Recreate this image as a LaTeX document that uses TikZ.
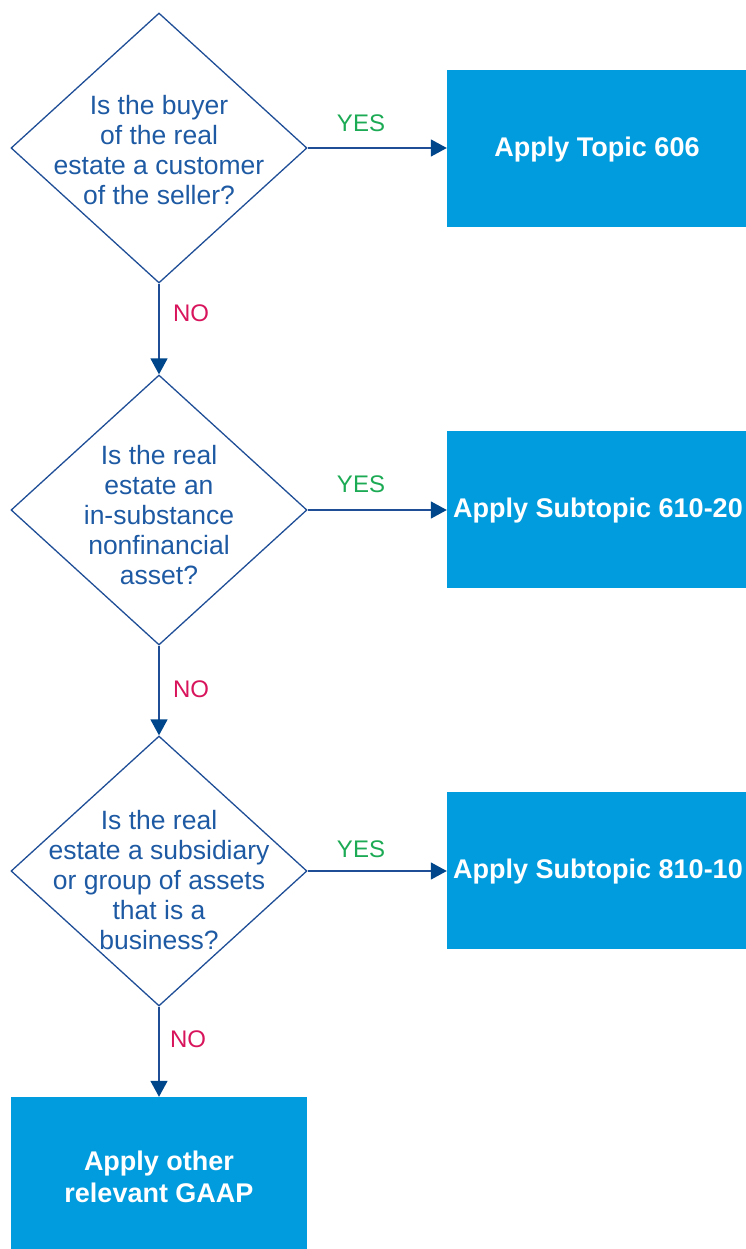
\documentclass[tikz,border=0pt]{standalone}
\usepackage{fontspec}
\setmainfont{Liberation Sans}
\usetikzlibrary{shapes.geometric,arrows.meta}
\definecolor{linkblue}{HTML}{1F4E96}
\definecolor{headblue}{HTML}{00468B}
\definecolor{qblue}{HTML}{1E5AA3}
\definecolor{boxblue}{HTML}{009CDE}
\definecolor{yesgreen}{HTML}{1DAA55}
\definecolor{nored}{HTML}{D8155C}
\begin{document}
\begin{tikzpicture}[x=1pt,y=-1pt,
  question/.style={diamond,draw=linkblue,line width=1.3pt,minimum width=296pt,minimum height=270pt,inner sep=0pt},
  qtext/.style={text=qblue,align=center,font=\fontsize{26.5}{30}\selectfont,inner sep=0pt},
  result/.style={fill=boxblue,minimum width=299pt,minimum height=157pt,inner sep=0pt,text=white,align=center,font=\bfseries\fontsize{27}{32}\selectfont},
  flow/.style={draw=linkblue,line width=1.5pt,-{Triangle[length=16pt,width=17pt,color=headblue]}},
  yes/.style={text=yesgreen,font=\fontsize{24}{28}\selectfont,inner sep=0pt},
  no/.style={text=nored,font=\fontsize{24}{28}\selectfont,inner sep=0pt}]
\useasboundingbox (0,0) rectangle (746,1249);

% decision diamonds
\node[question] (d1) at (159,148) {};
\node[question] (d2) at (159,510) {};
\node[question] (d3) at (159,871) {};
\node[qtext] (t1) at (159,150) {Is the buyer\\of the real\\estate a customer\\of the seller?};
\node[qtext] (t2) at (159,515) {Is the real\\estate an\\in-substance\\nonfinancial\\asset?};
\node[qtext] (t3) at (159,880) {Is the real\\estate a subsidiary\\or group of assets\\that is a\\business?};

% outcome boxes
\node[result] (b1) at (596.5,148.5) {};
\node[result] (b2) at (596.5,509.5) {};
\node[result] (b3) at (596.5,870.5) {};
\node[result,minimum width=296pt,minimum height=152pt] (b4) at (159,1173) {};
\node[result,fill=none,minimum width=0pt,minimum height=0pt] (l1) at (597,150) {Apply Topic 606};
\node[result,fill=none,minimum width=0pt,minimum height=0pt] (l2) at (598,511) {Apply Subtopic 610-20};
\node[result,fill=none,minimum width=0pt,minimum height=0pt] (l3) at (598,872) {Apply Subtopic 810-10};
\node[result,fill=none,minimum width=0pt,minimum height=0pt] (l4) at (159,1177) {Apply other\\relevant GAAP};

% connectors
\draw[flow] (d1.east) -- (b1.west |- d1.east);
\draw[flow] (d2.east) -- (b2.west |- d2.east);
\draw[flow] (d3.east) -- (b3.west |- d3.east);
\draw[flow] (d1.south) -- (d2.north);
\draw[flow] (d2.south) -- (d3.north);
\draw[flow] (d3.south) -- (b4.north);

% branch labels
\node[yes] (y1) at (361,123) {YES};
\node[yes] (y2) at (361,484) {YES};
\node[yes] (y3) at (361,849) {YES};
\node[no] (n1) at (191,313) {NO};
\node[no] (n2) at (191,689) {NO};
\node[no] (n3) at (188,1039) {NO};
\end{tikzpicture}
\end{document}
